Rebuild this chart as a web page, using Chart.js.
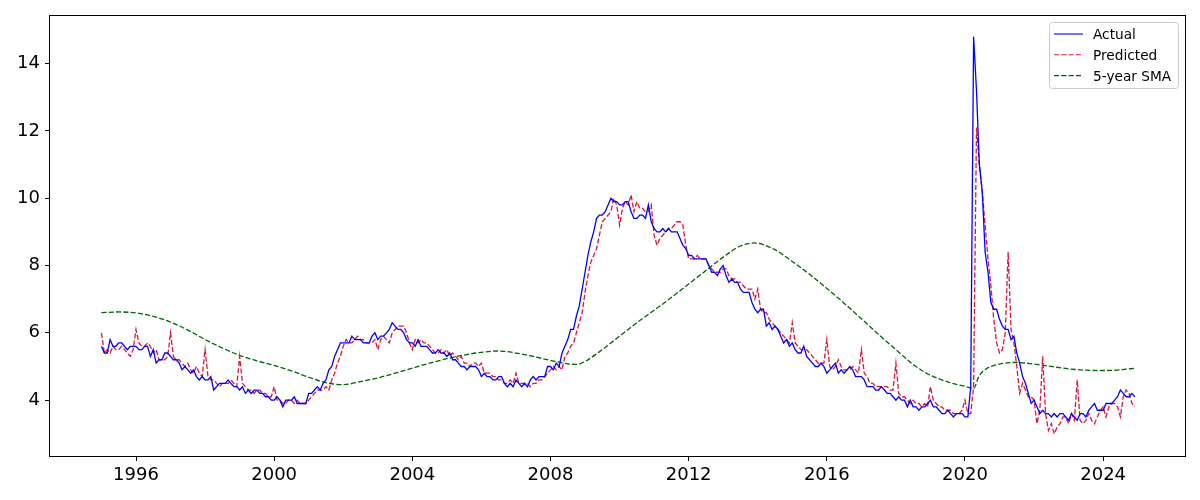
<!DOCTYPE html>
<html>
<head>
<meta charset="utf-8">
<script src="https://cdn.jsdelivr.net/npm/chart.js@4.4.1/dist/chart.umd.min.js"></script>
<style>
  body { margin: 0; background: #fff; }
  #wrap { width: 1200px; height: 500px; }
</style>
</head>
<body>
<div id="wrap"><canvas id="chomage" width="1200" height="500"></canvas></div>
<script>
// monthly series, starting January 1995
const startYear = 1995;

const actual = [
  5.6,5.4,5.4,5.8,5.6,5.6,5.7,5.7,5.6,5.5,5.6,5.6,
  5.6,5.5,5.5,5.6,5.6,5.3,5.5,5.1,5.2,5.2,5.4,5.4,
  5.3,5.2,5.2,5.1,4.9,5.0,4.9,4.8,4.9,4.7,4.6,4.7,
  4.6,4.6,4.7,4.3,4.4,4.5,4.5,4.5,4.6,4.5,4.4,4.4,
  4.3,4.4,4.2,4.3,4.2,4.3,4.3,4.2,4.2,4.1,4.1,4.0,
  4.0,4.1,4.0,3.8,4.0,4.0,4.0,4.1,3.9,3.9,3.9,3.9,
  4.2,4.2,4.3,4.4,4.3,4.5,4.6,4.9,5.0,5.3,5.5,5.7,
  5.7,5.7,5.7,5.9,5.8,5.8,5.8,5.7,5.7,5.7,5.9,6.0,
  5.8,5.9,5.9,6.0,6.1,6.3,6.2,6.1,6.1,6.0,5.8,5.7,
  5.7,5.6,5.8,5.6,5.6,5.6,5.5,5.4,5.4,5.5,5.4,5.4,
  5.3,5.4,5.2,5.2,5.1,5.0,5.0,4.9,5.0,5.0,5.0,4.9,
  4.7,4.8,4.7,4.7,4.6,4.6,4.7,4.7,4.5,4.4,4.5,4.4,
  4.6,4.5,4.4,4.5,4.4,4.6,4.7,4.6,4.7,4.7,4.7,5.0,
  5.0,4.9,5.1,5.0,5.4,5.6,5.8,6.1,6.1,6.5,6.8,7.3,
  7.8,8.3,8.7,9.0,9.4,9.5,9.5,9.6,9.8,10.0,9.9,9.9,
  9.8,9.8,9.9,9.9,9.6,9.4,9.4,9.5,9.5,9.4,9.8,9.3,
  9.1,9.0,9.0,9.1,9.0,9.1,9.0,9.0,9.0,8.8,8.6,8.5,
  8.3,8.3,8.2,8.2,8.2,8.2,8.2,8.0,7.8,7.8,7.7,7.9,
  8.0,7.7,7.5,7.6,7.5,7.5,7.3,7.2,7.2,7.2,6.9,6.7,
  6.6,6.7,6.7,6.2,6.3,6.1,6.2,6.1,5.9,5.7,5.8,5.6,
  5.7,5.5,5.4,5.4,5.6,5.3,5.2,5.1,5.0,5.0,5.1,5.0,
  4.8,4.9,5.0,5.1,4.8,4.9,4.8,4.9,5.0,4.9,4.7,4.7,
  4.7,4.6,4.4,4.4,4.4,4.3,4.3,4.4,4.3,4.2,4.2,4.1,
  4.0,4.1,4.0,4.0,3.8,4.0,3.8,3.8,3.7,3.8,3.8,3.9,
  4.0,3.8,3.8,3.7,3.6,3.6,3.7,3.6,3.5,3.6,3.6,3.6,
  3.5,3.5,4.4,14.8,13.2,11.0,10.2,8.4,7.8,6.9,6.7,6.7,
  6.4,6.2,6.1,6.1,5.8,5.9,5.4,5.1,4.7,4.5,4.2,3.9,
  4.0,3.8,3.6,3.7,3.6,3.6,3.5,3.6,3.5,3.6,3.6,3.5,
  3.4,3.6,3.5,3.4,3.6,3.6,3.5,3.7,3.8,3.9,3.7,3.7,
  3.7,3.9,3.9,3.9,4.0,4.1,4.3,4.2,4.1,4.1,4.2,4.1
];

const predicted = [
  6.0,5.4,5.5,5.4,5.6,5.5,5.5,5.6,5.5,5.4,5.3,5.5,
  6.1,5.7,5.6,5.6,5.7,5.6,5.4,5.5,5.2,5.2,5.2,5.3,
  6.0,5.3,5.2,5.2,5.1,5.0,5.1,4.9,4.8,5.0,4.8,4.7,
  5.5,4.7,4.6,4.6,4.5,4.4,4.5,4.5,4.5,4.6,4.5,4.4,
  5.3,4.5,4.4,4.3,4.3,4.2,4.3,4.3,4.2,4.2,4.1,4.1,
  4.4,4.0,4.0,3.9,3.9,4.0,4.0,3.9,4.0,3.9,3.9,3.9,
  4.0,4.1,4.2,4.3,4.3,4.3,4.4,4.3,4.6,4.8,5.1,5.3,
  5.6,5.8,5.7,5.7,5.8,5.9,5.8,5.8,5.7,5.7,5.7,5.8,
  5.5,5.8,5.9,5.8,5.7,6.0,6.1,6.2,6.2,6.2,6.0,5.7,
  5.5,5.8,5.7,5.8,5.7,5.7,5.6,5.5,5.4,5.4,5.5,5.4,
  5.5,5.3,5.4,5.3,5.2,5.3,5.1,5.1,5.0,5.1,5.1,5.0,
  5.1,4.8,4.8,4.8,4.7,4.7,4.6,4.6,4.5,4.5,4.6,4.5,
  4.8,4.5,4.5,4.5,4.5,4.4,4.5,4.5,4.6,4.6,4.7,4.8,
  4.9,5.0,4.9,5.0,4.9,5.3,5.4,5.6,5.7,6.0,6.3,6.6,
  7.2,7.7,8.1,8.3,8.5,8.9,9.3,9.4,9.5,9.6,10.0,9.8,
  9.2,9.7,9.9,9.8,10.1,9.6,9.9,9.7,9.7,9.6,9.6,9.8,
  8.9,8.6,8.8,8.9,9.0,9.1,9.1,9.2,9.3,9.3,9.2,8.6,
  8.2,8.2,8.2,8.3,8.2,8.2,8.2,8.0,7.9,7.8,7.8,7.8,
  7.9,7.9,7.7,7.6,7.6,7.5,7.5,7.4,7.3,7.3,7.3,7.0,
  7.3,6.7,6.6,6.6,6.4,6.3,6.2,6.1,6.0,5.9,5.8,5.7,
  6.3,5.7,5.6,5.5,5.5,5.5,5.4,5.3,5.2,5.1,5.1,5.1,
  5.8,5.0,4.9,5.0,5.2,5.0,4.9,4.9,4.9,5.0,4.9,4.8,
  5.5,4.8,4.7,4.5,4.5,4.4,4.4,4.4,4.4,4.4,4.3,4.3,
  5.1,4.2,4.1,4.1,4.0,3.9,4.0,3.9,3.9,3.8,3.9,3.8,
  4.4,4.0,3.9,3.8,3.8,3.7,3.7,3.7,3.6,3.6,3.6,3.7,
  4.0,3.6,3.6,4.4,12.1,11.0,10.2,9.2,8.2,7.4,6.4,5.7,
  5.4,5.5,6.0,8.4,6.1,5.7,5.0,4.2,4.5,4.3,4.1,4.1,
  4.0,3.3,3.7,5.3,3.6,3.1,3.3,3.0,3.2,3.3,3.5,3.5,
  3.3,3.6,3.4,4.6,3.4,3.3,3.4,3.6,3.4,3.3,3.5,3.7,
  3.8,3.5,3.8,3.9,3.9,3.8,3.5,4.1,4.3,4.2,3.9,3.8
];

// moyenne mobile 5 ans
const smaYears = [
  1995.0,1995.5,1996.0,1996.5,1997.0,1997.5,1998.0,1998.5,1999.0,1999.5,
  2000.0,2000.5,2001.0,2001.5,2002.0,2002.5,2003.0,2003.5,2004.0,2004.5,
  2005.0,2005.5,2006.0,2006.5,2007.0,2007.5,2008.0,2008.5,2008.75,2009.0,
  2009.5,2010.0,2010.5,2011.0,2011.5,2012.0,2012.5,2013.0,2013.5,2013.9,
  2014.5,2015.0,2015.5,2016.0,2016.5,2017.0,2017.5,2018.0,2018.5,2018.75,
  2019.0,2019.25,2019.5,2019.75,2020.0,2020.25,2020.4,2020.6,2021.0,2021.5,
  2022.0,2022.5,2023.0,2023.5,2024.0,2024.5,2024.92
];
const smaValues = [
  6.60,6.62,6.59,6.49,6.32,6.08,5.80,5.55,5.33,5.17,
  5.03,4.87,4.68,4.52,4.46,4.55,4.66,4.80,4.95,5.10,
  5.23,5.34,5.42,5.46,5.40,5.30,5.18,5.08,5.06,5.15,
  5.50,5.90,6.30,6.67,7.05,7.45,7.85,8.25,8.58,8.67,
  8.47,8.12,7.74,7.32,6.88,6.42,5.95,5.50,5.06,4.88,
  4.74,4.63,4.54,4.47,4.41,4.35,4.70,4.92,5.07,5.12,
  5.07,5.00,4.93,4.89,4.88,4.90,4.95
];

const xTicks = [1996, 2000, 2004, 2008, 2012, 2016, 2020, 2024];
const yTicks = [4, 6, 8, 10, 12, 14];

const seriesNames = ['Actual', 'Predicted', '5-year SMA'];
const seriesColors = ['#0000ff', '#dc143c', '#006400'];
const dash = [5.1, 2.2];

const monthPoints = (arr) => arr.map((v, i) => ({ x: startYear + i / 12, y: v }));
const smaPoints = smaYears.map((t, i) => ({ x: t, y: smaValues[i] }));

const police = "'DejaVu Sans', sans-serif";

// cadre complet + légende façon matplotlib
const cadre = {
  id: 'cadre',
  afterDraw(chart) {
    const ctx = chart.ctx;
    const a = chart.chartArea;
    ctx.save();
    ctx.strokeStyle = '#000';
    ctx.lineWidth = 1;
    ctx.strokeRect(Math.round(a.left) - 0.5, Math.round(a.top) - 0.5,
      Math.round(a.right - a.left) + 1, Math.round(a.bottom - a.top) + 1);

    // légende
    const bx = 1049.5, by = 22.5, bw = 129, bh = 66, r = 3;
    ctx.beginPath();
    ctx.moveTo(bx + r, by);
    ctx.lineTo(bx + bw - r, by);
    ctx.arcTo(bx + bw, by, bx + bw, by + r, r);
    ctx.lineTo(bx + bw, by + bh - r);
    ctx.arcTo(bx + bw, by + bh, bx + bw - r, by + bh, r);
    ctx.lineTo(bx + r, by + bh);
    ctx.arcTo(bx, by + bh, bx, by + bh - r, r);
    ctx.lineTo(bx, by + r);
    ctx.arcTo(bx, by, bx + r, by, r);
    ctx.closePath();
    ctx.fillStyle = 'rgba(255,255,255,0.8)';
    ctx.fill();
    ctx.strokeStyle = '#cccccc';
    ctx.stroke();

    ctx.font = '13.7px ' + police;
    ctx.textBaseline = 'alphabetic';
    ctx.textAlign = 'left';
    seriesNames.forEach((nom, i) => {
      const ly = 34 + i * 20.8;
      ctx.beginPath();
      ctx.setLineDash(i === 0 ? [] : dash);
      ctx.strokeStyle = seriesColors[i];
      ctx.lineWidth = 1.1;
      ctx.moveTo(1054, ly);
      ctx.lineTo(1083, ly);
      ctx.stroke();
      ctx.setLineDash([]);
      ctx.fillStyle = '#000';
      ctx.fillText(nom, 1093, ly + 4.9);
    });
    ctx.restore();
  }
};

c = new Chart('chomage', {
  type: 'line',
  data: {
    datasets: [
      {
        label: seriesNames[0],
        data: monthPoints(actual),
        borderColor: seriesColors[0],
        borderWidth: 1.3,
        pointRadius: 0,
        tension: 0
      },
      {
        label: seriesNames[1],
        data: monthPoints(predicted),
        borderColor: seriesColors[1],
        borderWidth: 1.3,
        borderDash: dash,
        pointRadius: 0,
        tension: 0
      },
      {
        label: seriesNames[2],
        data: smaPoints,
        borderColor: seriesColors[2],
        borderWidth: 1.3,
        borderDash: dash,
        pointRadius: 0,
        cubicInterpolationMode: 'monotone'
      }
    ]
  },
  options: {
    responsive: false,
    animation: false,
    devicePixelRatio: 1,
    layout: { padding: { left: 0, right: 15, top: 15, bottom: 0 } },
    plugins: {
      legend: { display: false },
      tooltip: { enabled: false }
    },
    scales: {
      x: {
        type: 'linear',
        min: 1993.51,
        max: 2026.37,
        afterBuildTicks: (s) => { s.ticks = xTicks.map(v => ({ value: v })); },
        afterFit: (s) => { s.height = 44; },
        border: { display: false },
        grid: {
          drawOnChartArea: false,
          drawTicks: true,
          tickLength: 5,
          tickColor: '#000',
          tickWidth: 1
        },
        ticks: {
          color: '#000',
          font: { family: police, size: 18 },
          padding: 4,
          maxRotation: 0,
          autoSkip: false,
          callback: (v) => String(v)
        }
      },
      y: {
        min: 2.34,
        max: 15.42,
        afterBuildTicks: (s) => { s.ticks = yTicks.map(v => ({ value: v })); },
        afterFit: (s) => { s.width = 50; },
        border: { display: false },
        grid: {
          drawOnChartArea: false,
          drawTicks: true,
          tickLength: 5,
          tickColor: '#000',
          tickWidth: 1
        },
        ticks: {
          color: '#000',
          font: { family: police, size: 18 },
          padding: 5,
          autoSkip: false,
          callback: (v) => String(v)
        }
      }
    }
  },
  plugins: [cadre]
});
</script>
</body>
</html>
